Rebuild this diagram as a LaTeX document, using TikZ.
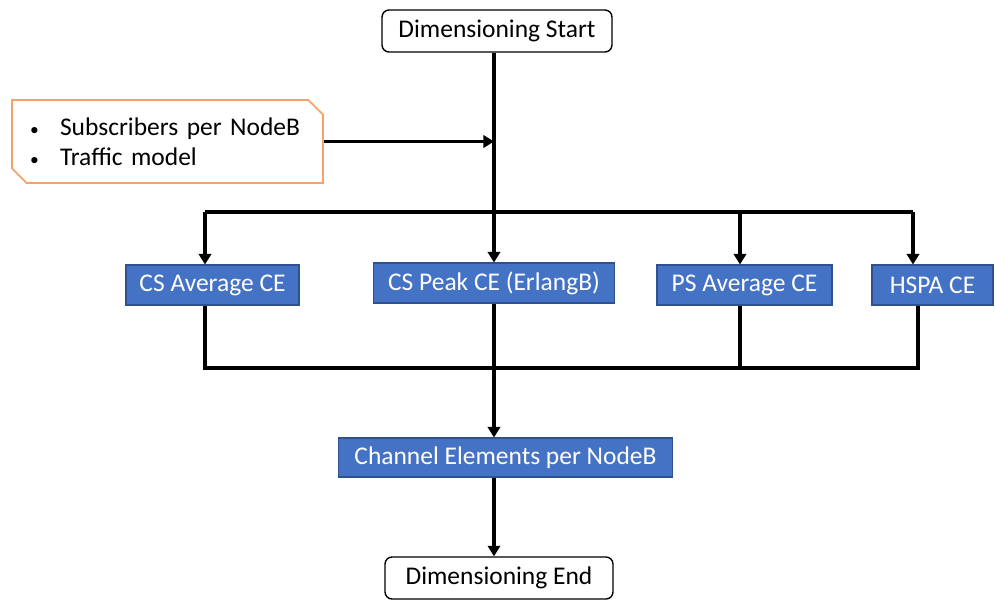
\documentclass[tikz,border=0pt]{standalone}
\usepackage{fontspec}
\setmainfont{Carlito}
\usetikzlibrary{arrows.meta, shapes.misc}
\definecolor{ceblue}{HTML}{4472C4}
\definecolor{ceedge}{HTML}{2F528F}
\definecolor{inorange}{HTML}{F4A36B}
\newcommand{\inbullet}{\makebox[0.6cm][l]{\fontsize{10}{10}\selectfont\textbullet}}

\begin{document}
\begin{tikzpicture}[x=0.02cm, y=-0.02cm, font=\fontsize{14.5}{17}\selectfont,
    endbox/.style={draw, rounded corners=4pt, line width=0.8pt, inner sep=0pt, minimum height=0.84cm},
    cebox/.style={draw=ceedge, line width=0.6pt, fill=ceblue, text=white, inner sep=0pt, minimum height=0.8cm},
    link/.style={line width=1.9pt},
    arr/.style={link, -{Triangle[length=6pt, width=7pt]}}]
    \useasboundingbox (0,0) rectangle (995,600);
    % start / end
    \node[endbox, minimum width=4.6cm] (start) at (497,31) {Dimensioning Start};
    \node[endbox, minimum width=4.56cm] (end) at (499,578) {Dimensioning End};
    % inputs
    \node[chamfered rectangle, chamfered rectangle corners={north east, south west},
        chamfered rectangle xsep=0.18cm, draw=inorange, line width=1pt,
        minimum height=1.66cm, inner xsep=0.18cm,
        text width=5.5cm, align=left] (inputs) at (167.5,141.5)
        {\inbullet Subscribers per NodeB\\
         \inbullet Traffic model};
    % CE boxes
    \node[cebox, minimum width=3.46cm] (csavg) at (212.5,285) {CS Average CE};
    \node[cebox, minimum width=4.82cm] (cspeak) at (494,283) {CS Peak CE (ErlangB)};
    \node[cebox, minimum width=3.5cm] (psavg) at (744.5,285) {PS Average CE};
    \node[cebox, minimum width=2.42cm] (hspa) at (932.5,285) {HSPA CE};
    \node[cebox, minimum width=6.7cm, minimum height=0.78cm] (channel) at (505.5,457.5) {Channel Elements per NodeB};
    % junctions
    \coordinate (busL) at (205,212);
    \coordinate (busM) at (740,212);
    \coordinate (busR) at (913,212);
    \coordinate (lowL) at (205,368);
    \coordinate (lowM) at (740,368);
    \coordinate (lowR) at (918,368);
    % connectors
    \draw[arr] (start.south -| cspeak.north) -- (cspeak.north);
    \draw[arr] (inputs.east) -- (inputs.east -| cspeak.north);
    \draw[link] (busL) -- (busR);
    \draw[arr] (busL) -- (busL |- csavg.north);
    \draw[arr] (busM) -- (busM |- psavg.north);
    \draw[arr] (busR) -- (busR |- hspa.north);
    \draw[link] (lowL |- csavg.south) -- (lowL) -- (lowR) -- (lowR |- hspa.south);
    \draw[link] (lowM |- psavg.south) -- (lowM);
    \draw[arr] (cspeak.south) -- (cspeak.south |- channel.north);
    \draw[arr] (cspeak.south |- channel.south) -- (cspeak.south |- end.north);
\end{tikzpicture}
\end{document}
